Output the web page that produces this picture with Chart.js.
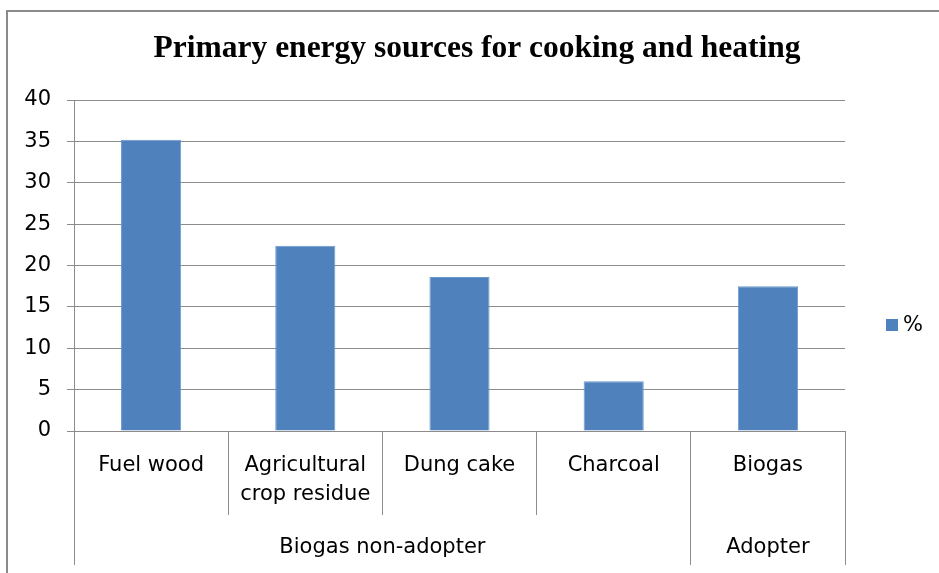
<!DOCTYPE html>
<html>
<head>
<meta charset="utf-8">
<title>Primary energy sources for cooking and heating</title>
<script src="https://cdn.jsdelivr.net/npm/chart.js@4.4.1/dist/chart.umd.min.js"></script>
<style>
    html, body { margin: 0; padding: 0; background: #fff; }
    #wrap { width: 939px; height: 573px; position: relative; }
</style>
</head>
<body>
<div id="wrap"><canvas id="chart"></canvas></div>
<script>
// Data
const categories = [['Fuel wood'], ['Agricultural', 'crop residue'], ['Dung cake'], ['Charcoal'], ['Biogas']];
const groups = ['Biogas non-adopter', 'Adopter'];
const groupSizes = [4, 1];
const percent = [35.2, 22.4, 18.6, 6.0, 17.5];
const seriesName = '%';
const chartTitle = 'Primary energy sources for cooking and heating';
const yMin = 0;
const yMax = 40;
const yStep = 5;

const barColor = '#4f81bd';
const lineColor = '#8c8c8c';
const labelFont = '21px "DejaVu Sans"';

// Draws the title, the two-level category axis, the outer frame and the legend
const multiLevelAxis = {
    id: 'multiLevelAxis',
    afterDraw(chart) {
        const ctx = chart.ctx;
        const x = chart.scales.x;
        const area = chart.chartArea;
        const n = categories.length;
        const step = (area.right - area.left) / n;
        const linePx = b => Math.round(area.left + b * step - 0.5) + 0.5;

        ctx.save();

        // outer frame (cut off on the right and bottom)
        ctx.strokeStyle = '#8a8a8a';
        ctx.lineWidth = 2;
        ctx.beginPath();
        ctx.moveTo(7, 580);
        ctx.lineTo(7, 11);
        ctx.lineTo(945, 11);
        ctx.stroke();

        // title
        ctx.fillStyle = '#000';
        ctx.font = 'bold 31.5px "Liberation Serif"';
        ctx.textAlign = 'center';
        ctx.textBaseline = 'alphabetic';
        ctx.fillText(chartTitle, 477, 57);

        // category dividers (short) and group boundaries (long)
        ctx.strokeStyle = lineColor;
        ctx.lineWidth = 1;
        const bounds = [0];
        let idx = 0;
        groupSizes.forEach(s => { idx += s; bounds.push(idx); });
        for (let b = 0; b <= n; b++) {
            const px = linePx(b);
            const long = bounds.includes(b);
            ctx.beginPath();
            ctx.moveTo(px, area.bottom);
            ctx.lineTo(px, long ? 565 : 515);
            ctx.stroke();
        }

        // category labels
        ctx.fillStyle = '#000';
        ctx.font = labelFont;
        ctx.textBaseline = 'middle';
        categories.forEach((lines, i) => {
            const cx = x.getPixelForValue(i);
            lines.forEach((t, k) => ctx.fillText(t, cx, 466 + k * 29));
        });

        // group labels
        groups.forEach((g, j) => {
            const gx = area.left + ((bounds[j] + bounds[j + 1]) / 2) * step;
            ctx.fillText(g, gx, 548);
        });

        // legend
        ctx.fillStyle = barColor;
        ctx.fillRect(886, 319, 12, 12);
        ctx.fillStyle = '#000';
        ctx.textAlign = 'left';
        ctx.fillText(seriesName, 903, 326);

        ctx.restore();
    }
};

new Chart(document.getElementById('chart').getContext('2d'), {
    type: 'bar',
    data: {
        labels: categories.map(c => c.join(' ')),
        datasets: [{
            label: seriesName,
            data: percent,
            backgroundColor: barColor,
            borderColor: '#6b9bd1',
            borderWidth: 1,
            barPercentage: 0.39,
            categoryPercentage: 1
        }]
    },
    options: {
        responsive: true,
        maintainAspectRatio: false,
        animation: false,
        layout: { padding: { left: 0, right: 94, top: 100, bottom: 0 } },
        plugins: {
            legend: { display: false },
            tooltip: { enabled: false },
            title: { display: false }
        },
        scales: {
            x: {
                ticks: { display: false },
                grid: { display: false },
                border: { display: true, color: lineColor },
                afterFit: s => { s.height = 142; }
            },
            y: {
                min: yMin,
                max: yMax,
                ticks: {
                    stepSize: yStep,
                    color: '#000',
                    padding: 16,
                    font: { family: '"DejaVu Sans"', size: 21 }
                },
                grid: { color: lineColor, tickLength: 7 },
                border: { display: true, color: lineColor },
                afterFit: s => { s.width = 74; }
            }
        }
    },
    plugins: [multiLevelAxis]
});
</script>
</body>
</html>
